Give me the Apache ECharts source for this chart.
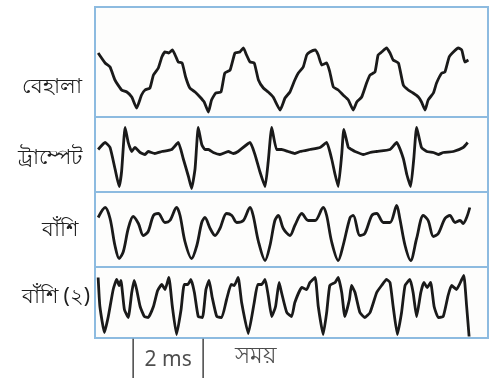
<!DOCTYPE html>
<html>
<head>
<meta charset="utf-8">
<script src="https://cdn.jsdelivr.net/npm/echarts@6/dist/echarts.min.js"></script>
<style>
  html, body { margin: 0; padding: 0; background: #ffffff; }
  #chart { width: 500px; height: 378px; }
</style>
</head>
<body>
<div id="chart"></div>
<script>
// time in ms, amplitude in arbitrary units
var instruments = ['বেহালা', 'ট্রাম্পেট', 'বাঁশি', 'বাঁশি (২)'];

var violin = [
  [0.09, 9], [0.29, -1], [0.43, -5], [0.57, -18], [0.76, -28], [0.91, -30], [1.05, -35], [1.19, -46],
  [1.33, -33], [1.43, -28], [1.57, -26], [1.67, -13], [1.81, -6], [1.91, 5], [2.00, 10], [2.11, 9],
  [2.21, 12], [2.29, 7], [2.38, 0], [2.49, -1], [2.59, -15], [2.71, -26], [2.86, -30], [3.00, -35],
  [3.12, -40], [3.24, -50], [3.33, -38], [3.45, -31], [3.60, -30], [3.71, -11], [3.86, -8], [4.00, 9],
  [4.14, 10], [4.24, 14], [4.33, 7], [4.43, 0], [4.55, -1], [4.67, -18], [4.81, -26], [4.95, -30],
  [5.09, -35], [5.29, -48], [5.43, -36], [5.57, -30], [5.71, -18], [5.81, -11], [5.95, -5], [6.05, 7],
  [6.14, 10], [6.29, 12], [6.38, 7], [6.48, -3], [6.62, -1], [6.71, -10], [6.81, -25], [6.95, -28],
  [7.09, -33], [7.24, -38], [7.38, -48], [7.48, -40], [7.62, -35], [7.76, -21], [7.86, -13], [8.00, -10],
  [8.09, 7], [8.19, 10], [8.33, 14], [8.43, 9], [8.52, 2], [8.67, -1], [8.81, -23], [8.95, -28],
  [9.09, -31], [9.24, -35], [9.33, -40], [9.43, -48], [9.52, -38], [9.67, -31], [9.76, -21], [9.91, -11],
  [10.00, -10], [10.12, 5], [10.24, 10], [10.38, 14], [10.48, 12], [10.57, 0], [10.67, 2]
];

var trumpet = [
  [0.09, 5], [0.29, 12], [0.43, 7], [0.57, -14], [0.69, -32], [0.76, -17], [0.86, 27], [0.95, 12],
  [1.05, 3], [1.14, 7], [1.29, 2], [1.43, 0], [1.52, 3], [1.71, 1], [1.91, 3], [2.19, 5],
  [2.38, 12], [2.52, -4], [2.67, -22], [2.76, -34], [2.86, -14], [2.95, 27], [3.05, 10], [3.14, 5],
  [3.24, 5], [3.38, 2], [3.57, 0], [3.81, 3], [3.95, 1], [4.09, 3], [4.43, 12], [4.57, 0],
  [4.71, -17], [4.86, -32], [4.95, -7], [5.05, 27], [5.19, 5], [5.33, 5], [5.52, 3], [5.71, 1],
  [5.86, 3], [6.14, 5], [6.43, 7], [6.62, 12], [6.76, -4], [6.86, -20], [6.95, -32], [7.05, 0],
  [7.11, 25], [7.24, 7], [7.33, 5], [7.43, 3], [7.67, 0], [7.86, 2], [8.05, 3], [8.43, 5],
  [8.62, 12], [8.81, -4], [8.91, -20], [9.02, -32], [9.11, -4], [9.19, 27], [9.33, 7], [9.48, 3],
  [9.67, 2], [9.81, 0], [9.95, 2], [10.24, 3], [10.52, 7], [10.65, 12]
];

var flute = [
  [0.09, 12], [0.29, 22], [0.43, 11], [0.57, -16], [0.69, -29], [0.81, -22], [0.95, 1], [1.09, 13],
  [1.24, 6], [1.38, -6], [1.52, -2], [1.67, 14], [1.81, 16], [2.00, 7], [2.14, 9], [2.33, 22],
  [2.43, 14], [2.57, -12], [2.76, -29], [2.91, -16], [3.05, 7], [3.14, 12], [3.29, 1], [3.43, -6],
  [3.57, 1], [3.76, 16], [3.91, 14], [4.05, 7], [4.24, 9], [4.43, 22], [4.52, 14], [4.67, -12],
  [4.86, -31], [5.00, -16], [5.14, 9], [5.24, 14], [5.38, 1], [5.57, -6], [5.71, 4], [5.91, 16],
  [6.09, 9], [6.29, 9], [6.52, 22], [6.62, 14], [6.76, -12], [6.95, -31], [7.09, -16], [7.29, 12],
  [7.38, 14], [7.57, -6], [7.71, -4], [7.91, 14], [8.05, 16], [8.24, 7], [8.43, 7], [8.62, 24],
  [8.71, 11], [8.86, -16], [9.02, -31], [9.19, -9], [9.38, 14], [9.52, 9], [9.67, -7], [9.81, -4],
  [10.00, 11], [10.14, 14], [10.29, 7], [10.43, 9], [10.52, 6], [10.62, 12], [10.71, 22]
];

var flute2 = [
  [0.09, 25], [0.14, -4], [0.27, -30], [0.38, -14], [0.52, 13], [0.62, 23], [0.69, 17], [0.74, 22],
  [0.84, -7], [0.95, -15], [1.05, 10], [1.12, 22], [1.19, 13], [1.29, -4], [1.41, -14], [1.52, -15],
  [1.67, -4], [1.79, 12], [1.91, 18], [2.00, 13], [2.11, 25], [2.21, -4], [2.33, -32], [2.46, -7],
  [2.55, 18], [2.65, 18], [2.74, 23], [2.84, 10], [2.95, -14], [3.07, -15], [3.17, 13], [3.26, 22],
  [3.35, 5], [3.48, -14], [3.62, -15], [3.76, 3], [3.89, 18], [3.98, 17], [4.09, 25], [4.19, 0],
  [4.38, -31], [4.55, 0], [4.65, 18], [4.76, 18], [4.86, 23], [4.95, 7], [5.05, -14], [5.16, -4],
  [5.26, 20], [5.33, 10], [5.48, -10], [5.62, -14], [5.71, 0], [5.91, 15], [6.05, 13], [6.14, 20],
  [6.29, 25], [6.38, -4], [6.52, -32], [6.62, -10], [6.71, 17], [6.86, 20], [6.95, 25], [7.05, 10],
  [7.14, -14], [7.27, 3], [7.33, 17], [7.43, 10], [7.57, -10], [7.71, -15], [7.86, -10], [8.05, 10],
  [8.19, 17], [8.33, 23], [8.43, 20], [8.52, -4], [8.64, -32], [8.76, -10], [8.86, 17], [9.00, 23],
  [9.09, 10], [9.19, -14], [9.31, 10], [9.40, 20], [9.49, 15], [9.59, 20], [9.69, -4], [9.81, -15],
  [9.95, -14], [10.09, 7], [10.19, 17], [10.33, 13], [10.48, 23], [10.54, 27], [10.62, -4], [10.69, -34]
];

var waves = [violin, trumpet, flute, flute2];
var ampRange = [55, 37.5, 37.5, 35.5];

// 2 ms scale bar under the last panel
var scaleStart = 1.09;
var scaleLength = 2;
var timeLabel = 'সময়';
var timeMax = 11.23;

var panels = [
  {top: 7, height: 110, label: 90, right: 82},
  {top: 117, height: 75, label: 161, right: 82},
  {top: 192, height: 75, label: 233, right: 78},
  {top: 267, height: 71, label: 300, right: 90}
];

var grids = [], xAxes = [], yAxes = [], series = [], graphics = [];
panels.forEach(function (p, i) {
  grids.push({
    left: 95, width: 393, top: p.top, height: p.height,
    show: true, borderColor: '#8dbbe0', borderWidth: 2, backgroundColor: '#fdfdfc'
  });
  xAxes.push({type: 'value', gridIndex: i, min: 0, max: timeMax, show: false});
  yAxes.push({type: 'value', gridIndex: i, min: -ampRange[i], max: ampRange[i], show: false});
  series.push({
    type: 'line', xAxisIndex: i, yAxisIndex: i, data: waves[i],
    symbol: 'none', smooth: i === 2 ? 0.3 : 0.15,
    lineStyle: {color: '#1a1a1a', width: 2.8, join: 'round'},
    silent: true, animation: false
  });
  graphics.push({
    type: 'text', right: 500 - p.right, top: p.label - 13,
    style: {text: instruments[i], fill: '#1e1e1e', font: '21px "Noto Sans", sans-serif'}
  });
});

// scale grid
grids.push({left: 95, width: 393, top: 338, height: 40});
xAxes.push({type: 'value', gridIndex: 4, min: 0, max: timeMax, show: false});
yAxes.push({type: 'value', gridIndex: 4, min: 0, max: 1, show: false});
[scaleStart, scaleStart + scaleLength].forEach(function (t) {
  series.push({
    type: 'line', xAxisIndex: 4, yAxisIndex: 4, data: [[t, 0], [t, 0.98]],
    symbol: 'none', lineStyle: {color: '#444', width: 1.5}, silent: true, animation: false
  });
});
series.push({
  type: 'scatter', xAxisIndex: 4, yAxisIndex: 4, symbolSize: 0, silent: true, animation: false,
  data: [
    {value: [scaleStart + scaleLength / 2, 0.45], label: {formatter: scaleLength + ' ms', fontSize: 21}},
    {value: [4.0, 0.55], label: {formatter: timeLabel, align: 'left', fontSize: 23}}
  ],
  label: {show: true, position: 'inside', color: '#222', fontFamily: '"Noto Sans", sans-serif'}
});

var chart = echarts.init(document.getElementById('chart'), null, {renderer: 'canvas'});
chart.setOption({
  backgroundColor: '#ffffff',
  animation: false,
  grid: grids,
  xAxis: xAxes,
  yAxis: yAxes,
  series: series,
  graphic: graphics
});
</script>
</body>
</html>
